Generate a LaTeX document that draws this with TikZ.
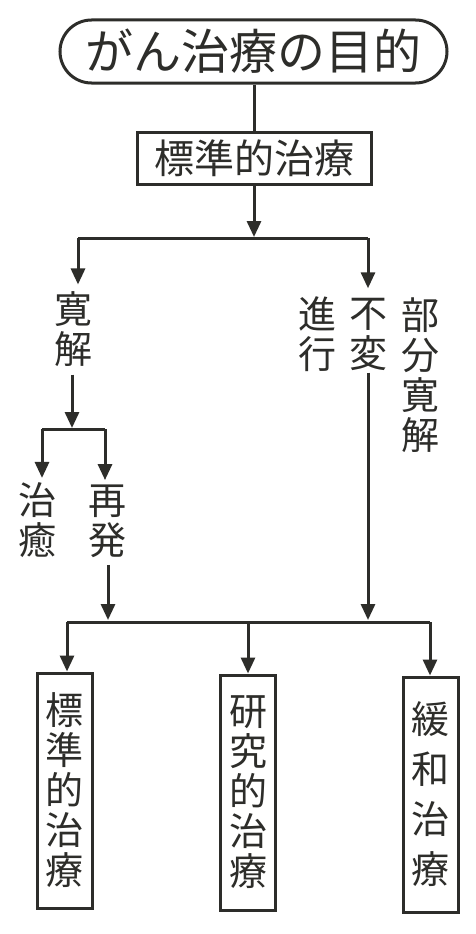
\documentclass[tikz,border=0pt]{standalone}
\usepackage{fontspec}
\setmainfont{Noto Sans CJK JP}
\usetikzlibrary{arrows.meta,shapes.misc}
\definecolor{ink}{RGB}{45,45,42}
\begin{document}
\begin{tikzpicture}[x=1pt,y=-1pt,
  line width=3pt, draw=ink, text=ink,
  arr/.style={-{Triangle[length=16pt,width=14pt]}},
  vlab/.style={font=\fontsize{38}{40}\selectfont, align=center, inner xsep=0pt, inner ysep=6pt},
  vbox/.style={draw, font=\fontsize{38}{40}\selectfont, align=center, minimum width=55pt, minimum height=235pt, inner sep=0pt}]
\useasboundingbox[fill=white] (0,0) rectangle (476,934);

% title
\node[rounded rectangle, draw, minimum width=387pt, minimum height=63pt, inner sep=0pt,
      font=\fontsize{48}{50}\selectfont] (title) at (253.5,51.5) {がん治療の目的};
\node[draw, minimum width=234pt, minimum height=52pt, inner sep=0pt,
      font=\fontsize{40}{42}\selectfont] (std) at (254,158) {標準的治療};
\draw (title.south -| std.north) -- (std.north);

\coordinate (j1) at (254,237);
\draw[arr] (std.south) -- (j1);
\coordinate (hl) at (78,238);
\coordinate (hr) at (368,238);
\draw (hl) -- (hr);

% left branch
\node[vlab] (kankai) at (73,329.5) {寛\\解};
\draw[arr] (hl) -- (hl |- kankai.north);
\node[vlab] (shinko) at (317,334) {進\\行};
\node[vlab, inner ysep=1pt] (fuhen) at (368,334) {不\\変};
\node[vlab] (bubun) at (420,375.5) {部\\分\\寛\\解};
\draw[arr, shorten >=7pt] (hr) -- (fuhen.north);

\coordinate (j2) at (72,428);
\draw[arr] (kankai.south -| j2) -- (j2);
\coordinate (hl2) at (42,429);
\coordinate (hr2) at (105,429);
\draw (hl2) -- (hr2);
\node[vlab, inner ysep=3pt] (chiyu) at (37,520) {治\\癒};
\node[vlab, inner ysep=3pt] (saihatsu) at (107,521) {再\\発};
\draw[arr] (hl2) -- (hl2 |- chiyu.north);
\draw[arr] (hr2) -- (hr2 |- saihatsu.north);

% bottom bar
\coordinate (hb1) at (67,622);
\coordinate (hb2) at (248,622);
\coordinate (hb3) at (430,622);
\coordinate (jb1) at (108,620);
\coordinate (jb2) at (368,620);
\draw (hb1) -- (hb3);
\draw[arr, shorten <=3pt] (saihatsu.south -| jb1) -- (jb1);
\draw[arr] (fuhen.south) -- (jb2);

\node[vbox] (b1) at (64.5,790.5) {標\\準\\的\\治\\療};
\node[vbox] (b2) at (248,792.5) {研\\究\\的\\治\\療};
\node[vbox, font=\fontsize{38}{50}\selectfont] (b3) at (430.5,794.5) {緩\\和\\治\\療};
\draw[arr] (hb1) -- (hb1 |- b1.north);
\draw[arr] (hb2) -- (b2.north);
\draw[arr] (hb3) -- (hb3 |- b3.north);
\end{tikzpicture}
\end{document}
